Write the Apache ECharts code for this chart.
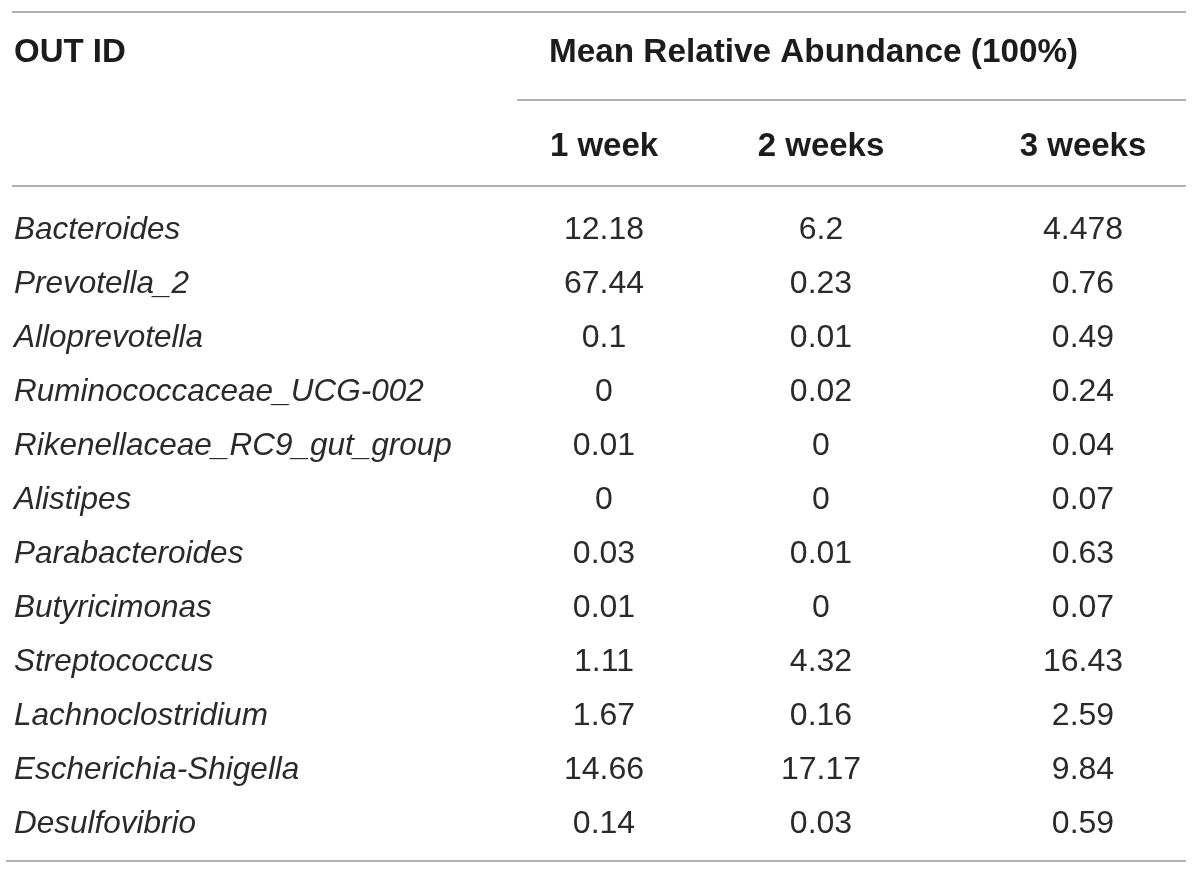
<!DOCTYPE html>
<html>
<head>
<meta charset="utf-8">
<script src="https://cdn.jsdelivr.net/npm/echarts@6/dist/echarts.min.js"></script>
<style>
  html, body { margin: 0; padding: 0; background: #fff; }
  #main { width: 1200px; height: 875px; }
</style>
</head>
<body>
<div id="main"></div>
<script>
// 表格数据
var rowNames = ['Bacteroides', 'Prevotella_2', 'Alloprevotella', 'Ruminococcaceae_UCG-002',
  'Rikenellaceae_RC9_gut_group', 'Alistipes', 'Parabacteroides', 'Butyricimonas',
  'Streptococcus', 'Lachnoclostridium', 'Escherichia-Shigella', 'Desulfovibrio'];
var colNames = ['1 week', '2 weeks', '3 weeks'];
var week1 = ['12.18', '67.44', '0.1', '0', '0.01', '0', '0.03', '0.01', '1.11', '1.67', '14.66', '0.14'];
var week2 = ['6.2', '0.23', '0.01', '0.02', '0', '0', '0.01', '0', '4.32', '0.16', '17.17', '0.03'];
var week3 = ['4.478', '0.76', '0.49', '0.24', '0.04', '0.07', '0.63', '0.07', '16.43', '2.59', '9.84', '0.59'];
var headTitle = 'Mean Relative Abundance (100%)';
var idTitle = 'OUT ID';

// 样式
var textColor = '#2a2a2a';
var headColor = '#1c1c1c';
var ruleColor = '#b1b1b1';
var bodyFont = 'Liberation Sans';
var colShift = [0, 0, 45]; // 第三列稍微靠右

var cells = [];
[week1, week2, week3].forEach(function (col, c) {
  col.forEach(function (v, r) {
    cells.push({ value: [c, r, v], label: { offset: [colShift[c], 0] } });
  });
});

function rule(x1, y, x2) {
  return { type: 'line', shape: { x1: x1, y1: y, x2: x2, y2: y },
    style: { stroke: ruleColor, lineWidth: 2 } };
}

var chart = echarts.init(document.getElementById('main'));

var option = {
  backgroundColor: '#fff',
  animation: false,
  grid: { left: 495.5, right: 53.5, top: 203, bottom: 24 },
  xAxis: {
    type: 'category',
    position: 'top',
    data: colNames,
    axisLine: { show: false },
    axisTick: { show: false },
    splitLine: { show: false },
    axisLabel: {
      interval: 0,
      margin: 56,
      verticalAlign: 'middle',
      color: headColor,
      fontFamily: bodyFont,
      fontWeight: 'bold',
      fontSize: 33,
      formatter: function (v, i) { return i === 2 ? '{c3|' + v + '}' : v; },
      rich: {
        c3: { padding: [0, 0, 0, 90], color: headColor, fontFamily: bodyFont,
          fontWeight: 'bold', fontSize: 33 }
      }
    }
  },
  yAxis: {
    type: 'category',
    inverse: true,
    data: rowNames,
    axisLine: { show: false },
    axisTick: { show: false },
    splitLine: { show: false },
    axisLabel: {
      interval: 0,
      align: 'left',
      margin: 481.5,
      color: textColor,
      fontFamily: bodyFont,
      fontStyle: 'italic',
      fontSize: 31.5
    }
  },
  series: [{
    type: 'scatter',
    symbolSize: 0,
    itemStyle: { opacity: 1 },
    data: cells,
    label: {
      show: true,
      position: 'inside',
      formatter: function (p) { return p.value[2]; },
      color: textColor,
      fontFamily: bodyFont,
      fontSize: 32
    }
  }],
  graphic: [
    rule(12, 12, 1186),
    rule(517, 100, 1186),
    rule(12, 186, 1186),
    rule(6, 861, 1186),
    { type: 'text', x: 14, y: 53,
      style: { text: idTitle, fill: headColor, font: 'bold 33px "Liberation Sans"', verticalAlign: 'middle' } },
    { type: 'text', x: 549, y: 53,
      style: { text: headTitle, fill: headColor, font: 'bold 33.3px "Liberation Sans"', verticalAlign: 'middle' } }
  ]
};

chart.setOption(option);
</script>
</body>
</html>
